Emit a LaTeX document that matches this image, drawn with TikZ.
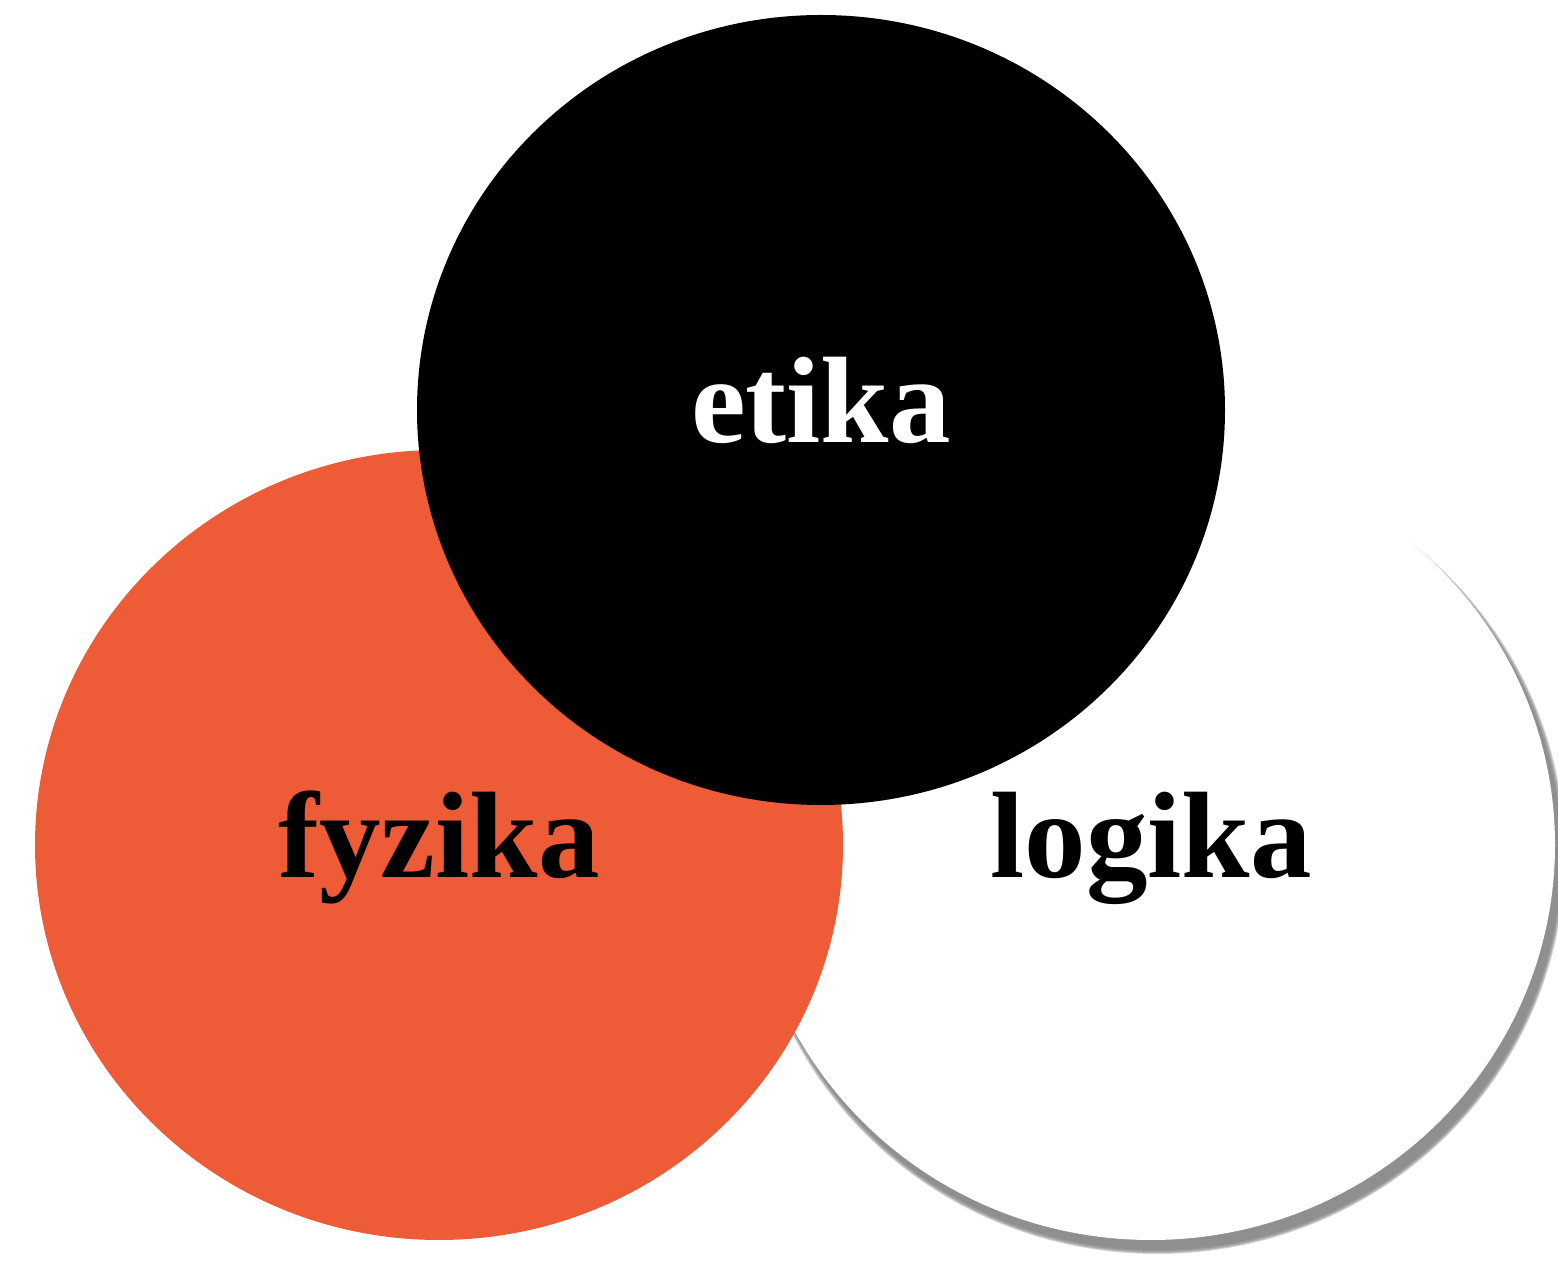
\documentclass[tikz,border=0pt]{standalone}
\usepackage{fontspec}
\setmainfont{Liberation Serif}
\usepackage{tikz}
\definecolor{orangecolor}{RGB}{238, 92, 55}
\definecolor{shadowcolor}{RGB}{128, 128, 128}

\begin{document}
\begin{tikzpicture}
    % Define the radii of the three ellipses
    \newcommand{\ellrx}{4.04}
    \newcommand{\ellry}{3.95}
    \tikzset{label text/.style={anchor=base, font=\fontsize{35}{40}\selectfont\bfseries}}

    \useasboundingbox (0,0) rectangle (15.58,12.64);

    % Shadow of the logic ellipse
    \foreach \r in {0.04,0.03,0.02,0.01,0}
        \fill[shadowcolor, opacity=0.35] (11.51+0.06,4.19-0.10) ellipse ({\ellrx+\r} and {\ellry+\r});

    % Logic ellipse (white)
    \fill[white] (11.51,4.19) ellipse ({\ellrx} and {\ellry});

    % Physics ellipse (orange)
    \fill[orangecolor] (4.39,4.19) ellipse ({\ellrx} and {\ellry});

    % Ethics ellipse (black)
    \fill[black] (8.21,8.54) ellipse ({\ellrx} and {\ellry});

    % Labels
    \node[label text, text=white] (etika) at (8.21,8.21) {etika};
    \node[label text] (fyzika) at (4.39,3.86) {fyzika};
    \node[label text] (logika) at (11.51,3.86) {logika};
\end{tikzpicture}
\end{document}
